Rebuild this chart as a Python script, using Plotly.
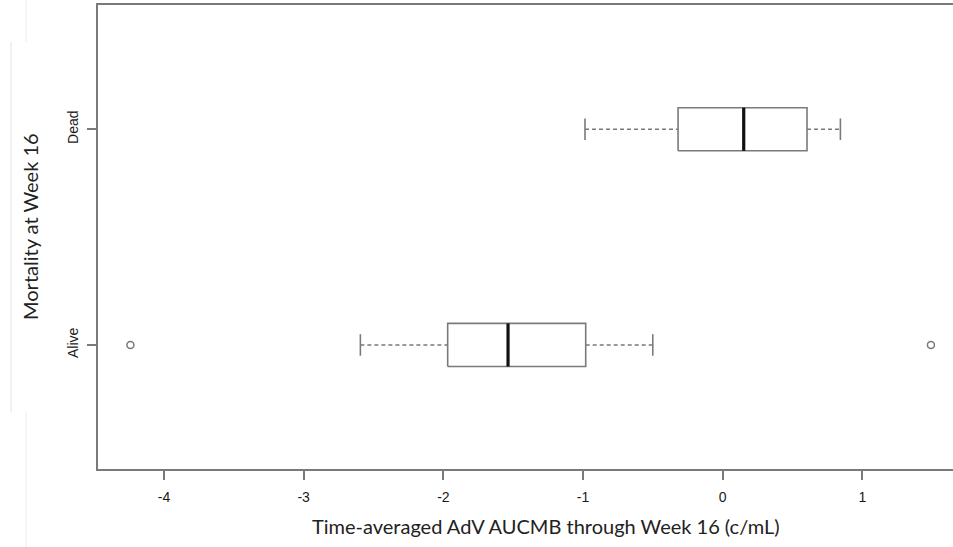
import plotly.graph_objects as go

groups = ["Alive", "Dead"]
group_pos = [1, 2]
lower_whisker = [-2.594, -0.986]
q1 = [-1.969, -0.320]
median = [-1.537, 0.150]
q3 = [-0.981, 0.603]
upper_whisker = [-0.501, 0.842]
outliers = {"Alive": [-4.24, 1.49], "Dead": []}

x_ticks = [-4, -3, -2, -1, 0, 1]

BOX_HALF = 0.1
CAP_HALF = 0.05
LINE_COL = "#7a7a7a"

fig = go.Figure()
for g, p, lw, a, m, b, uw in zip(groups, group_pos, lower_whisker, q1, median, q3, upper_whisker):
    # whiskers (dashed)
    fig.add_trace(go.Scatter(x=[lw, a, None, b, uw], y=[p, p, None, p, p], mode="lines",
                             line=dict(color=LINE_COL, width=1.6, dash="4px,3px"), hoverinfo="skip", showlegend=False))
    # caps
    fig.add_trace(go.Scatter(x=[lw, lw, None, uw, uw], y=[p - CAP_HALF, p + CAP_HALF, None, p - CAP_HALF, p + CAP_HALF],
                             mode="lines", line=dict(color=LINE_COL, width=1.6), hoverinfo="skip", showlegend=False))
    # box
    fig.add_trace(go.Scatter(x=[a, b, b, a, a], y=[p - BOX_HALF, p - BOX_HALF, p + BOX_HALF, p + BOX_HALF, p - BOX_HALF],
                             mode="lines", line=dict(color=LINE_COL, width=1.6), fill="toself", fillcolor="white",
                             hoverinfo="skip", showlegend=False))
    # median
    fig.add_trace(go.Scatter(x=[m, m], y=[p - BOX_HALF, p + BOX_HALF], mode="lines",
                             line=dict(color="#111111", width=3.2), hoverinfo="skip", showlegend=False))
    if outliers[g]:
        fig.add_trace(go.Scatter(x=outliers[g], y=[p] * len(outliers[g]), mode="markers",
                                 marker=dict(symbol="circle-open", size=7, color=LINE_COL, line=dict(width=1.5)),
                                 hoverinfo="skip", showlegend=False))

fig.update_layout(
    width=953, height=547,
    margin=dict(l=98, r=0, t=5, b=78),
    paper_bgcolor="white", plot_bgcolor="white",
    font=dict(family="Liberation Sans, Arial, sans-serif", color="#222222"),
    xaxis=dict(range=[-4.472, 1.648], tickvals=x_ticks, ticktext=[str(v) for v in x_ticks],
               showgrid=False, zeroline=False, showline=True, linecolor=LINE_COL, linewidth=2, mirror=True,
               ticks="outside", ticklen=9, tickcolor=LINE_COL, tickwidth=1.5, tickfont=dict(size=14, color="#1a1a1a"),
               ticklabelstandoff=5),
    yaxis=dict(range=[0.425, 2.576], tickvals=group_pos, ticktext=groups, tickangle=-90,
               showgrid=False, zeroline=False, showline=True, linecolor=LINE_COL, linewidth=2, mirror=False,
               ticks="outside", ticklen=9, tickcolor=LINE_COL, tickwidth=1.5, tickfont=dict(size=14, color="#1a1a1a"),
               ticklabelstandoff=3),
    annotations=[
        dict(text="Time-averaged AdV AUCMB through Week 16 (c/mL)", xref="paper", yref="paper",
             x=(545.5 - 98) / (953 - 98), y=-(526 - 469) / 464, xanchor="center", yanchor="middle",
             showarrow=False, font=dict(family="Lato, Open Sans, sans-serif", size=20, color="#222222")),
        dict(text="Mortality at Week 16", xref="paper", yref="paper",
             x=-(98 - 30) / 855, y=(469 - 227) / 464, xanchor="center", yanchor="middle", textangle=-90,
             showarrow=False, font=dict(family="Lato, Open Sans, sans-serif", size=20, color="#222222")),
    ],
    shapes=[
        dict(type="line", xref="paper", yref="paper", x0=-(98 - 26) / 855, x1=-(98 - 26) / 855,
             y0=(469 - 0) / 464, y1=(469 - 42) / 464, line=dict(color="#ececec", width=1)),
        dict(type="line", xref="paper", yref="paper", x0=-(98 - 11) / 855, x1=-(98 - 11) / 855,
             y0=(469 - 42) / 464, y1=(469 - 412) / 464, line=dict(color="#e4e4e4", width=1)),
        dict(type="line", xref="paper", yref="paper", x0=-(98 - 26) / 855, x1=-(98 - 26) / 855,
             y0=(469 - 412) / 464, y1=(469 - 547) / 464, line=dict(color="#ececec", width=1)),
    ],
)

fig.write_html("out.html")
